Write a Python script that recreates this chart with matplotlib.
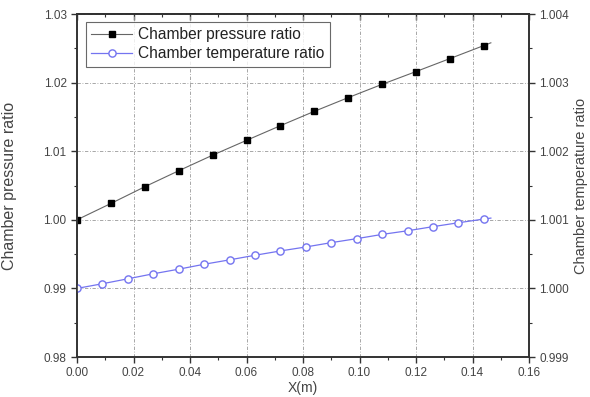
import matplotlib
matplotlib.use("Agg")
import matplotlib.pyplot as plt
from matplotlib.ticker import MultipleLocator, FormatStrFormatter

x_p = [0.0, 0.012, 0.024, 0.036, 0.048, 0.060, 0.072, 0.084, 0.096, 0.108, 0.120, 0.132, 0.144]
p_ratio = [1.0000, 1.00238, 1.00482, 1.00715, 1.00942, 1.01158, 1.01372, 1.01581,
           1.01781, 1.01975, 1.02161, 1.0235, 1.0254]
x_t = [0.0, 0.009, 0.018, 0.027, 0.036, 0.045, 0.054, 0.063, 0.072, 0.081,
       0.090, 0.099, 0.108, 0.117, 0.126, 0.135, 0.144]
t_ratio = [1.0000, 1.000068, 1.00014, 1.000213, 1.00028, 1.000352, 1.000416, 1.000483,
           1.000546, 1.000604, 1.000667, 1.000725, 1.000787, 1.00084, 1.0009, 1.000957, 1.001011]
# line continues slightly past last marker
x_end = 0.1465
p_end = 1.0258
t_end = 1.001025

plt.rcParams['font.family'] = ['Liberation Sans', 'DejaVu Sans']
fig = plt.figure(figsize=(5.9, 3.97), dpi=100)
ax = fig.add_axes([77/590, 1 - 357/397, (529-77)/590, (357-14)/397])
ax2 = ax.twinx()

lp, = ax.plot(x_p + [x_end], p_ratio + [p_end], color='#666666', lw=0.8,
              marker='s', ms=4.2, mfc='black', mec='black', markevery=list(range(len(x_p))),
              label='Chamber pressure ratio')
lt, = ax2.plot(x_t + [x_end], t_ratio + [t_end], color='#7474f0', lw=0.9,
               marker='o', ms=5.2, mfc='white', mec='#7474f0', mew=1.0,
               markevery=list(range(len(x_t))), label='Chamber temperature ratio')

ax.set_xlim(0, 0.16)
ax.set_ylim(0.98, 1.03)
ax2.set_ylim(0.999, 1.004)
ax.xaxis.set_major_locator(MultipleLocator(0.02))
ax.xaxis.set_minor_locator(MultipleLocator(0.01))
ax.yaxis.set_major_locator(MultipleLocator(0.01))
ax.yaxis.set_minor_locator(MultipleLocator(0.005))
ax2.yaxis.set_major_locator(MultipleLocator(0.001))
ax2.yaxis.set_minor_locator(MultipleLocator(0.0005))
ax.xaxis.set_major_formatter(FormatStrFormatter('%.2f'))
ax.yaxis.set_major_formatter(FormatStrFormatter('%.2f'))
ax2.yaxis.set_major_formatter(FormatStrFormatter('%.3f'))

ax.grid(True, which='major', color='#999999', ls=(0, (4, 2, 1, 2)), lw=0.6)
ax.set_axisbelow(True)

tc = '#444444'
for a in (ax, ax2):
    for s in a.spines.values():
        s.set_color('#333333')
        s.set_linewidth(1.2)
ax.tick_params(axis='both', which='major', direction='out', length=4, width=1, colors='#333333',
               labelsize=8.5, labelcolor=tc, top=False)
ax.tick_params(axis='both', which='minor', direction='out', length=2.5, width=0.8, colors='#333333', top=False)
ax2.tick_params(axis='y', which='major', direction='out', length=4, width=1, colors='#333333',
                labelsize=8.5, labelcolor=tc)
ax2.tick_params(axis='y', which='minor', direction='out', length=2.5, width=0.8, colors='#333333')
# top ticks inward
axt = ax.secondary_xaxis('top')
axt.xaxis.set_major_locator(MultipleLocator(0.02))
axt.xaxis.set_minor_locator(MultipleLocator(0.01))
axt.tick_params(which='major', direction='in', length=4, width=1, colors='#333333', labeltop=False)
axt.tick_params(which='minor', direction='in', length=2.5, width=0.8, colors='#333333')
axt.spines['top'].set_linewidth(1.2)

ax.set_ylabel('Chamber pressure ratio', fontsize=11.5, color=tc, va='center')
ax.yaxis.set_label_coords(-(77 - 10) / 452, 0.5)
ax2.set_ylabel('Chamber temperature ratio', fontsize=10.5, color=tc, va='center')
ax2.yaxis.set_label_coords((581 - 77) / 452, 0.5)
ax.set_xlabel('X(m)', fontsize=10, color=tc, va='top')
ax.xaxis.set_label_coords((303 - 77) / 452, -(381 - 357) / 343)

leg = ax.legend(handles=[lp, lt], loc='upper left', bbox_to_anchor=(0.02, 0.977),
                fontsize=11.2, frameon=True, fancybox=False, edgecolor='#444444',
                handlelength=2.6, borderpad=0.35, labelspacing=0.25, handletextpad=0.4,
                borderaxespad=0)
leg.get_frame().set_linewidth(0.8)
for t in leg.get_texts():
    t.set_color('#222222')

fig.savefig('out.png', dpi=100)
